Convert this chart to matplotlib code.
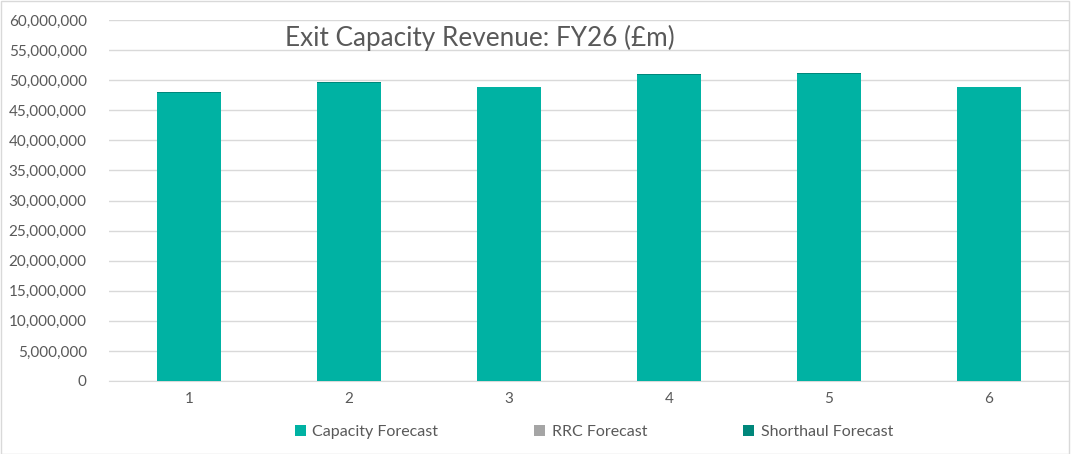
import matplotlib
matplotlib.use("Agg")
import matplotlib.pyplot as plt
import numpy as np
from matplotlib.ticker import FuncFormatter, MultipleLocator
from matplotlib.patches import Rectangle

plt.rcParams["font.family"] = ["Lato", "DejaVu Sans"]

categories = ["1", "2", "3", "4", "5", "6"]
capacity = [47950000, 49600000, 48800000, 50850000, 51000000, 48800000]
rrc = [0, 0, 0, 0, 0, 0]
shorthaul = [30000, 30000, 30000, 200000, 200000, 30000]

series = [
    ("Capacity Forecast", capacity, "#00B2A3"),
    ("RRC Forecast", rrc, "#A5A5A5"),
    ("Shorthaul Forecast", shorthaul, "#00877B"),
]

TXT = "#595959"
GRID = "#D9D9D9"

fig = plt.figure(figsize=(10.71, 4.54), dpi=100)
ax = fig.add_axes([109 / 1071, 1 - 381 / 454, 960 / 1071, 361 / 454])

x = np.arange(len(categories))
bottom = np.zeros(len(categories))
for name, vals, col in series:
    vals = np.array(vals, dtype=float)
    ax.bar(x, vals, width=0.4, bottom=bottom, color=col, label=name, zorder=3)
    bottom += vals

ax.set_xlim(-0.5, len(categories) - 0.5)
ax.set_ylim(0, 60000000)
ax.yaxis.set_major_locator(MultipleLocator(5000000))
ax.yaxis.set_major_formatter(FuncFormatter(lambda v, p: f"{int(v):,}"))
ax.set_xticks(x)
ax.set_xticklabels(categories)
ax.grid(axis="y", color=GRID, lw=1, zorder=0)
for s in ["top", "right", "left"]:
    ax.spines[s].set_visible(False)
ax.spines["bottom"].set_color(GRID)
ax.tick_params(axis="both", length=0, colors=TXT, labelsize=11)
ax.tick_params(axis="y", pad=16)
ax.tick_params(axis="x", pad=8)

# title sits inside the plot area, as in the source sheet
fig.text(480 / 1071, 1 - 38 / 454, "Exit Capacity Revenue: FY26 (£m)",
         ha="center", va="center", fontsize=18.8, color=TXT)

fig.legend(loc="center", bbox_to_anchor=(594 / 1071, 1 - 432 / 454), ncol=3,
           frameon=False, fontsize=11.5, labelcolor=TXT, handlelength=0.7,
           handleheight=0.7, columnspacing=6.0, handletextpad=0.4)

fig.patches.append(Rectangle((0.001, 0.001), 0.997, 0.997, transform=fig.transFigure,
                             fill=False, edgecolor="#D9D9D9", lw=1))

fig.savefig("out.png", dpi=100)
